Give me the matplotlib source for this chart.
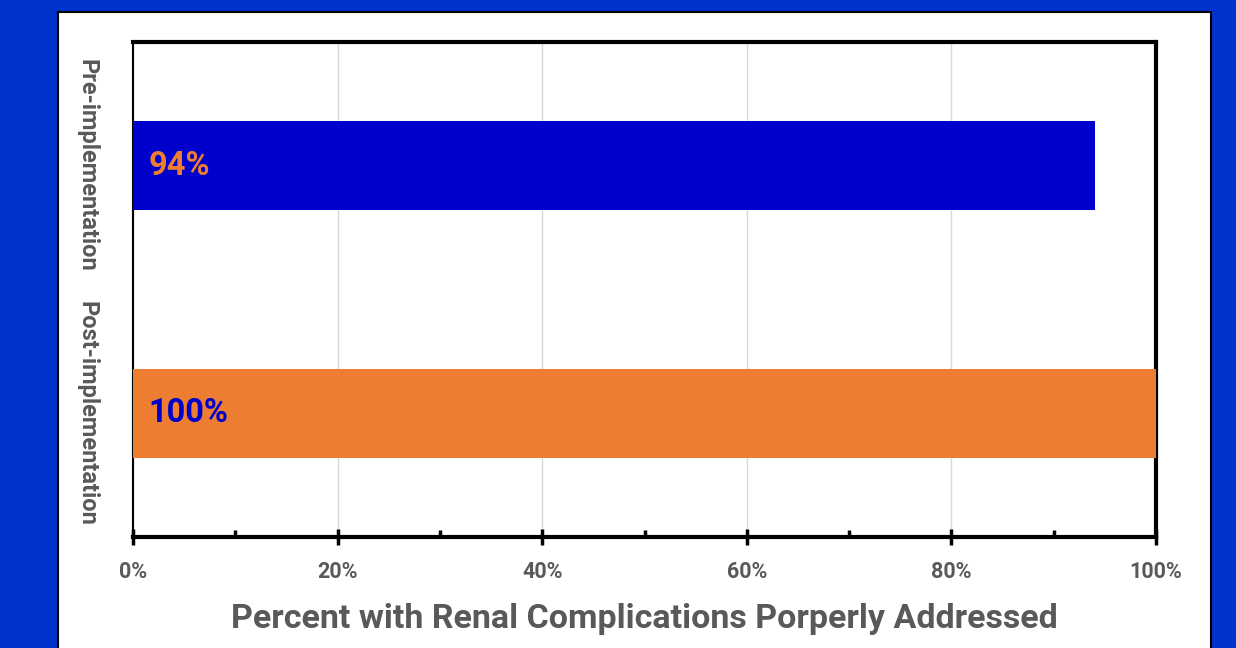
import matplotlib
matplotlib.use("Agg")
import matplotlib.pyplot as plt
from matplotlib.patches import Rectangle
from matplotlib.ticker import MultipleLocator, FuncFormatter

categories = ["Pre-implementation", "Post-implementation"]
values = [94, 100]
bar_colors = ["#0000CC", "#ED7D31"]
label_colors = ["#ED7D31", "#0000CC"]
xlabel = "Percent with Renal Complications Porperly Addressed"

plt.rcParams['font.family'] = ['Roboto', 'DejaVu Sans']
plt.rcParams['font.weight'] = 'bold'

fig = plt.figure(figsize=(12.36, 6.48), dpi=100)
fig.patch.set_facecolor("#0033CC")

W, H = 1236, 648
bg = fig.add_axes([0, 0, 1, 1], zorder=-5)
bg.set_xlim(0, W)
bg.set_ylim(H, 0)
bg.axis("off")
bg.add_patch(Rectangle((58, 12), 1211 - 58, 700, facecolor="white",
                       edgecolor="black", linewidth=1.5))

ax = fig.add_axes([133 / W, 1 - 537 / H, (1156 - 133) / W, (537 - 42) / H])
ax.set_facecolor("white")

ypos = list(range(len(categories)))
ax.barh(ypos, values, height=0.36, color=bar_colors, zorder=3)
for y, v, c in zip(ypos, values, label_colors):
    ax.text(1.5, y, f"{v}%", color=c, fontsize=23.5, fontweight="bold",
            va="center", ha="left", zorder=4)

ax.set_xlim(0, 100)
ax.set_ylim(1.5, -0.5)
ax.set_yticks(ypos)
ax.set_yticklabels(categories, rotation=-90, va="center", ha="center",
                   fontsize=17, fontweight="bold", color="#595959")
ax.tick_params(axis="y", length=0, pad=33)

ax.xaxis.set_major_locator(MultipleLocator(20))
ax.xaxis.set_minor_locator(MultipleLocator(10))
ax.xaxis.set_major_formatter(FuncFormatter(lambda v, p: f"{int(v)}%"))
ax.tick_params(axis="x", which="major", direction="inout", length=12, width=2.5,
               labelsize=15.5, labelcolor="#595959", pad=11)
ax.tick_params(axis="x", which="minor", direction="in", length=5, width=2.5)
for lbl in ax.get_xticklabels():
    lbl.set_fontweight("bold")

ax.grid(axis="x", color="#D9D9D9", linewidth=1, zorder=0)
ax.set_axisbelow(True)

for s in ["top", "right", "bottom"]:
    ax.spines[s].set_linewidth(3)
    ax.spines[s].set_color("black")
ax.spines["left"].set_linewidth(1.5)
ax.spines["left"].set_color("black")

ax.set_xlabel(xlabel, fontsize=24.5, fontweight="bold",
              color="#595959", labelpad=15)

fig.savefig("out.png", dpi=100, facecolor=fig.get_facecolor())
